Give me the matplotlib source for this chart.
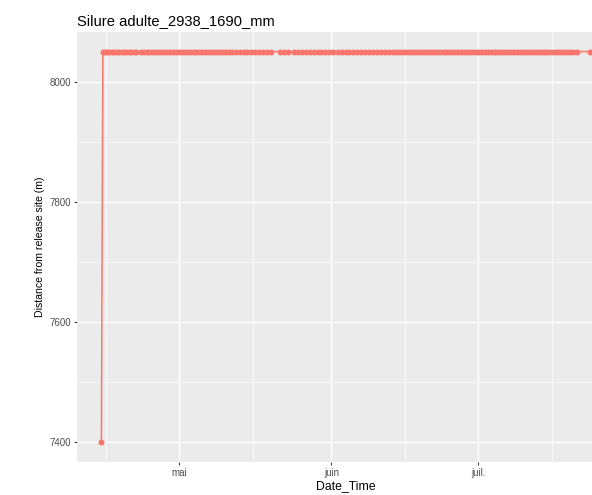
import matplotlib
matplotlib.use("Agg")
import matplotlib.pyplot as plt
import matplotlib.dates as mdates
import pandas as pd
import numpy as np

plt.rcParams['font.family'] = ['Liberation Sans', 'DejaVu Sans']

title = "Silure adulte_2938_1690_mm"
x_label = "Date_Time"
y_label = "Distance from release site (m)"
base_date = "2019-05-01"

# detection times, in days relative to 1 May
days = [
    -15.9,
    -15.6, -15.2, -14.8, -14.4,
    -13.8, -13.3, -12.8, -12.3, -11.8, -11.3, -10.8, -10.3, -9.8, -9.3, -8.8,
    -7.9, -7.3, -6.7, -6.1, -5.5, -4.9, -4.3, -3.7, -3.1, -2.5, -1.9, -1.3, -0.7, -0.1,
    0.5, 1.1, 1.7, 2.3, 2.9, 3.5, 4.1, 4.7, 5.3, 5.9, 6.5, 7.1, 7.7, 8.3, 8.9, 9.5,
    10.1, 10.7, 11.5, 12.3, 13.1, 13.9, 14.7, 15.5, 16.3, 17.1, 17.9, 18.7,
    20.5, 21.3, 22.2,
    23.4, 24.2, 25.0, 25.8, 26.6, 27.4, 28.2, 29.0, 29.8, 30.6, 31.4, 32.3, 33.1, 33.9,
    34.7, 35.5, 36.3, 37.1, 37.9, 38.7, 39.5, 40.3, 41.1, 41.9, 42.7, 43.5, 44.3, 44.9, 45.5, 46.1, 46.7,
    47.3, 47.9, 48.5, 49.1, 49.7, 50.3, 50.9, 51.5, 52.1, 52.7, 53.3, 53.9, 54.5, 55.1,
    55.7, 56.3, 56.9, 57.5, 58.1, 58.7, 59.3, 59.9, 60.5, 61.1, 61.7, 62.3, 62.9, 63.5,
    64.1, 64.7, 65.3, 65.9, 66.5, 67.1, 67.7, 68.3, 68.9, 69.5, 70.1, 70.7, 71.3, 71.9,
    72.5, 73.1, 73.7, 74.3, 74.9, 75.5, 76.1, 76.7, 77.3, 77.9, 78.5, 79.1, 79.7, 80.4,
    81.1,
    83.7,
]
release_distance = 7400
station_distance = 8050
distances = [release_distance] + [station_distance] * (len(days) - 1)

major_dates = ["2019-05-01", "2019-06-01", "2019-07-01"]
major_labels = ["mai", "juin", "juil."]
minor_dates = ["2019-04-16", "2019-05-16", "2019-06-16", "2019-07-16"]
y_ticks = [7400, 7600, 7800, 8000]
y_minor = [7500, 7700, 7900]

times = pd.Timestamp(base_date) + pd.to_timedelta(days, unit="D")

fig = plt.figure(figsize=(5.92, 4.95), dpi=100)
ax = fig.add_axes([77/592, 1 - 462/495, (614 - 77)/592, (462 - 32)/495])
ax.set_facecolor("#EBEBEB")
for s in ax.spines.values():
    s.set_visible(False)

col = "#F8766D"
ax.plot(times, distances, color=col, lw=1.1, zorder=3)
ax.plot(times, distances, 'o', color=col, ms=4.3, mew=0, zorder=4)

tmin, tmax = times.min(), times.max()
span = tmax - tmin
ax.set_xlim(mdates.date2num(tmin - 0.05 * span), mdates.date2num(tmax + 0.05 * span))
ymin, ymax = min(distances), max(distances)
yr = ymax - ymin
ax.set_ylim(ymin - 0.05 * yr, ymax + 0.05 * yr)

ax.set_xticks(mdates.date2num(pd.to_datetime(major_dates)))
ax.set_xticklabels(major_labels)
ax.set_xticks(mdates.date2num(pd.to_datetime(minor_dates)), minor=True)
ax.set_yticks(y_ticks)
ax.set_yticks(y_minor, minor=True)

ax.grid(which="major", color="white", lw=1.0, zorder=1)
ax.grid(which="minor", color="white", lw=0.5, zorder=1)
ax.set_axisbelow(True)
ax.tick_params(which="major", length=2.5, width=0.7, color="#333333",
               labelcolor="#4D4D4D", labelsize=7, pad=2)
ax.tick_params(which="minor", length=0)

ax.set_xlabel(x_label, fontsize=8.8, labelpad=1, color="black")
ax.set_ylabel(y_label, fontsize=7.6, labelpad=3, color="black")
fig.text(77/592, 1 - 25/495, title, fontsize=10.6, ha="left", va="baseline")

fig.savefig("out.png", dpi=100)
